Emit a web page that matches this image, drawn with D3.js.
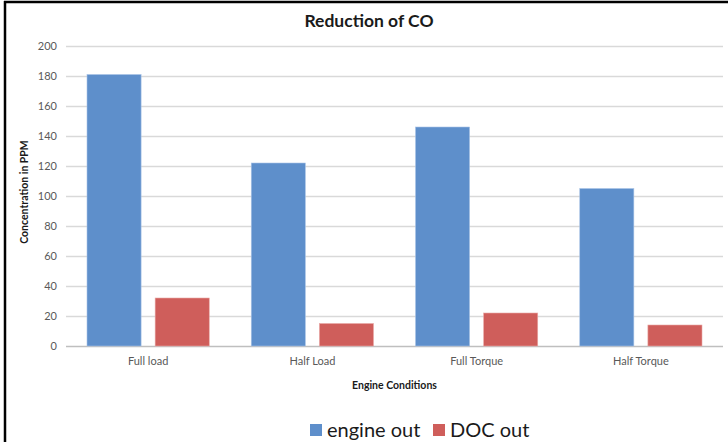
<!DOCTYPE html>
<html><head><meta charset="utf-8">
<script src="https://cdn.jsdelivr.net/npm/d3@7"></script>
<style>body{margin:0;background:#fff;} svg{display:block;font-family:Lato,"Open Sans",sans-serif;}</style>
</head><body>
<svg id="c" width="728" height="442"></svg>
<script>
const categories = ["Full load", "Half Load", "Full Torque", "Half Torque"];
const seriesNames = ["engine out", "DOC out"];
const engineOut = [181, 122, 146, 105];
const docOut = [32, 15, 22, 14];
const yTicks = [0, 20, 40, 60, 80, 100, 120, 140, 160, 180, 200];
const colors = ["#5e8fcb", "#cf5e5b"];

const svg = d3.select("#c");
const W = 728, H = 442;
const m = {left: 66, right: 5, top: 46, bottom: 96};

// border (left and top)
svg.append("line").attr("x1",5).attr("x2",5).attr("y1",1).attr("y2",H).attr("stroke","#000").attr("stroke-width",2.5);
svg.append("line").attr("x1",4).attr("x2",W).attr("y1",2).attr("y2",2).attr("stroke","#000").attr("stroke-width",2.5);

const x = d3.scaleBand().domain(categories).range([m.left, W - m.right]).paddingInner(0).paddingOuter(0);
const xs = d3.scaleBand().domain(seriesNames).range([21, x.bandwidth() - 21]).paddingInner(0.206);
const y = d3.scaleLinear().domain([0, 200]).range([H - m.bottom, m.top]);

// gridlines
const yAxis = d3.axisLeft(y).tickValues(yTicks).tickSize(-(W - m.right - m.left)).tickPadding(9).tickFormat(d3.format("d"));
const gy = svg.append("g").attr("transform", `translate(${m.left},0)`).call(yAxis);
gy.select(".domain").remove();
gy.selectAll(".tick line").attr("stroke", d => d === 0 ? "#bfbfbf" : "#d9d9d9").attr("stroke-width", 1.3);
gy.selectAll(".tick text").attr("fill", "#595959").style("font-size", "11px").style("font-family", "Lato,sans-serif");

// bars
const data = categories.map((c, i) => ({c, vals: [engineOut[i], docOut[i]]}));
const g = svg.append("g");
data.forEach(d => {
  d.vals.forEach((v, j) => {
    g.append("rect")
      .attr("x", x(d.c) + xs(seriesNames[j]))
      .attr("width", xs.bandwidth())
      .attr("y", y(v))
      .attr("height", y(0) - y(v))
      .attr("fill", colors[j])
      .attr("stroke", j === 0 ? "#a9c4e6" : "#e9a9a7")
      .attr("stroke-width", 0.6);
  });
});

// x axis labels
const xAxis = d3.axisBottom(x).tickSize(0).tickPadding(11);
const gx = svg.append("g").attr("transform", `translate(0,${y(0)})`).call(xAxis);
gx.select(".domain").remove();
gx.selectAll(".tick text").attr("fill", "#595959").style("font-size", "11px").style("font-family", "Lato,sans-serif");

// titles
svg.append("text").attr("x", 369).attr("y", 27).attr("text-anchor", "middle")
  .style("font-size", "17.5px").style("font-weight", "bold").attr("fill", "#1a1a1a").text("Reduction of CO");
svg.append("text").attr("x", (m.left + W - m.right) / 2).attr("y", 389).attr("text-anchor", "middle")
  .style("font-size", "10.5px").style("font-weight", "bold").attr("fill", "#1a1a1a").text("Engine Conditions");
svg.append("text").attr("transform", "translate(28,192) rotate(-90)").attr("text-anchor", "middle")
  .style("font-size", "10.5px").style("font-weight", "bold").attr("fill", "#1a1a1a").text("Concentration in PPM");

// legend
const lg = svg.append("g");
const legendX = [310, 433];
seriesNames.forEach((s, j) => {
  lg.append("rect").attr("x", legendX[j]).attr("y", 424).attr("width", 12).attr("height", 12).attr("fill", colors[j]);
  lg.append("text").attr("x", legendX[j] + 17).attr("y", 437).style("font-size", "20px").attr("fill", "#1a1a1a").text(s);
});
</script>
</body></html>
